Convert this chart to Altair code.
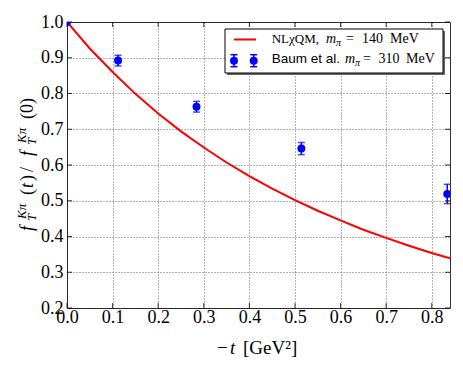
import altair as alt
import pandas as pd

# ---------------- data ----------------
curve_t = [0.0, 0.05, 0.1, 0.15, 0.2, 0.25, 0.3, 0.35, 0.4, 0.45, 0.5,
           0.55, 0.6, 0.65, 0.7, 0.75, 0.8, 0.84]
curve_f = [1.0, 0.926, 0.860, 0.799, 0.744, 0.694, 0.649, 0.607, 0.569,
           0.534, 0.502, 0.472, 0.445, 0.419, 0.396, 0.374, 0.354, 0.339]

lat_t = [0.0, 0.112, 0.284, 0.514, 0.834]
lat_f = [1.0, 0.892, 0.763, 0.646, 0.519]
lat_err = [0.0, 0.015, 0.015, 0.017, 0.027]

x_ticks = [0.0, 0.1, 0.2, 0.3, 0.4, 0.5, 0.6, 0.7, 0.8]
y_ticks = [0.2, 0.3, 0.4, 0.5, 0.6, 0.7, 0.8, 0.9, 1.0]

W, H = 383, 286
SERIF = "Liberation Serif"
SANS = "Liberation Sans"
RED = "#ff0000"
BLUE = "#0000ff"

curve = pd.DataFrame({"t": curve_t, "f": curve_f})
lat = pd.DataFrame({"t": lat_t, "f": lat_f, "e": lat_err})
xt = pd.DataFrame({"v": x_ticks})
yt = pd.DataFrame({"v": y_ticks})
one = pd.DataFrame({"a": [0]})

xscale = alt.Scale(domain=[0, 0.84], nice=False, zero=False)
yscale = alt.Scale(domain=[0.2, 1.0], nice=False, zero=False)

xaxis = alt.Axis(values=x_ticks, format=".1f", title=None, ticks=False, domain=False,
                 grid=True, gridDash=[1, 2], gridColor="#000", gridWidth=0.6,
                 labelFont=SERIF, labelFontSize=18, labelColor="#000",
                 labelPadding=0, labelFlush=False, labelOverlap=False)
yaxis = alt.Axis(values=y_ticks, format=".1f", title=None, ticks=False, domain=False,
                 grid=True, gridDash=[1, 2], gridColor="#000", gridWidth=0.6,
                 labelFont=SERIF, labelFontSize=18, labelColor="#000",
                 labelPadding=4, labelFlush=False, labelOverlap=False)


def X(field):
    return alt.X(field, scale=xscale, axis=xaxis)


def Y(field):
    return alt.Y(field, scale=yscale, axis=yaxis)


line = alt.Chart(curve).mark_line(color=RED, strokeWidth=2, clip=True).encode(
    x=X("t:Q"), y=Y("f:Q"))

base = alt.Chart(lat).transform_calculate(lo="datum.f - datum.e", hi="datum.f + datum.e")
err = base.mark_rule(color=BLUE, strokeWidth=1.5, clip=True).encode(
    x=X("t:Q"), y=Y("lo:Q"), y2="hi:Q")
cap_lo = base.mark_tick(color=BLUE, orient="horizontal", size=7, thickness=1.5, clip=True).encode(
    x=X("t:Q"), y=Y("lo:Q"))
cap_hi = base.mark_tick(color=BLUE, orient="horizontal", size=7, thickness=1.5, clip=True).encode(
    x=X("t:Q"), y=Y("hi:Q"))
pts = alt.Chart(lat).mark_circle(color=BLUE, opacity=1, size=64, clip=True).encode(
    x=X("t:Q"), y=Y("f:Q"))

# inward ticks on all four sides
tick_style = dict(color="#000", strokeWidth=0.8)
xt_bot = alt.Chart(xt).mark_rule(**tick_style).encode(
    x=X("v:Q"), y=alt.value(H), y2=alt.value(H - 5))
xt_top = alt.Chart(xt).mark_rule(**tick_style).encode(
    x=X("v:Q"), y=alt.value(0), y2=alt.value(5))
yt_l = alt.Chart(yt).mark_rule(**tick_style).encode(
    y=Y("v:Q"), x=alt.value(0), x2=alt.value(5))
yt_r = alt.Chart(yt).mark_rule(**tick_style).encode(
    y=Y("v:Q"), x=alt.value(W), x2=alt.value(W - 5))


def txt(text, x, y, size=16, italic=False, font=SERIF, angle=0):
    return alt.Chart(one).mark_text(
        text=text, align="left", baseline="alphabetic", font=font, fontSize=size,
        fontStyle="italic" if italic else "normal", angle=angle, color="#000"
    ).encode(x=alt.value(x), y=alt.value(y))


# ---- legend ----
LX0, LY0, LX1, LY1 = 158, 7, 376, 51
shadow = alt.Chart(one).mark_rect(color="#666").encode(
    x=alt.value(LX0 + 2), x2=alt.value(LX1 + 2), y=alt.value(LY0 + 2), y2=alt.value(LY1 + 2))
box = alt.Chart(one).mark_rect(fill="white", stroke="#000", strokeWidth=1).encode(
    x=alt.value(LX0), x2=alt.value(LX1), y=alt.value(LY0), y2=alt.value(LY1))
leg_line = alt.Chart(one).mark_rule(color=RED, strokeWidth=2).encode(
    x=alt.value(167), x2=alt.value(189), y=alt.value(17.5))
leg_items = []
for mx in (167, 186.7):
    leg_items.append(alt.Chart(one).mark_rule(color=BLUE, strokeWidth=1.5).encode(
        x=alt.value(mx), y=alt.value(38.7 - 6), y2=alt.value(38.7 + 6)))
    for yy in (38.7 - 6, 38.7 + 6):
        leg_items.append(alt.Chart(one).mark_rule(color=BLUE, strokeWidth=1.5).encode(
            x=alt.value(mx - 3.5), x2=alt.value(mx + 3.5), y=alt.value(yy)))
    leg_items.append(alt.Chart(one).mark_circle(color=BLUE, opacity=1, size=64).encode(
        x=alt.value(mx), y=alt.value(38.7)))

LS = 14
leg_text = [
    txt("NL\u03c7QM,", 204.7, 21, 13),
    txt("m", 259, 21, LS, italic=True),
    txt("\u03c0", 269, 24, 10, italic=True),
    txt("=", 279, 21, LS),
    txt("140", 295, 21, LS),
    txt("MeV", 323, 21, LS),
    txt("Baum et al.", 204.7, 41, 13.5, font=SANS),
    txt("m", 278, 41, LS, italic=True),
    txt("\u03c0", 288, 44, 10, italic=True),
    txt("=", 296, 41, LS),
    txt("310", 311.5, 41, LS),
    txt("MeV", 339, 41, LS),
]

# ---- x title ----
XB = 332
xtitle = [
    txt("\u2212", 150, XB, 19),
    txt("t", 163, XB, 19, italic=True),
    txt("[GeV\u00b2]", 176, XB, 19),
]

# ---- y title (rotated, reads bottom-to-top) ----
YBx, Y0 = -34, 211
S, SS = 18, 13


def ypart(text, d, shift=0, size=S, italic=False):
    return txt(text, YBx + shift, Y0 - d, size, italic=italic, angle=270)


ytitle = [
    ypart("f", 2, italic=True),
    ypart("T", 12, 3, SS, True),
    ypart("K\u03c0", 14, -7, SS, True),
    ypart("(", 38),
    ypart("t", 45, italic=True),
    ypart(")", 52),
    ypart("/", 61),
    ypart("f", 77, italic=True),
    ypart("T", 88, 3, SS, True),
    ypart("K\u03c0", 90, -7, SS, True),
    ypart("(0)", 114),
]

chart = alt.layer(
    line, xt_bot, xt_top, yt_l, yt_r, err, cap_lo, cap_hi, pts,
    shadow, box, leg_line, *leg_items, *leg_text, *xtitle, *ytitle
).properties(
    width=W, height=H,
    autosize=alt.AutoSizeParams(type="none"),
    padding={"left": 59, "top": 14, "right": 5, "bottom": 50},
).configure_view(stroke="#333", strokeWidth=1)

chart.save("out.html", embed_options={"renderer": "svg", "actions": False})
